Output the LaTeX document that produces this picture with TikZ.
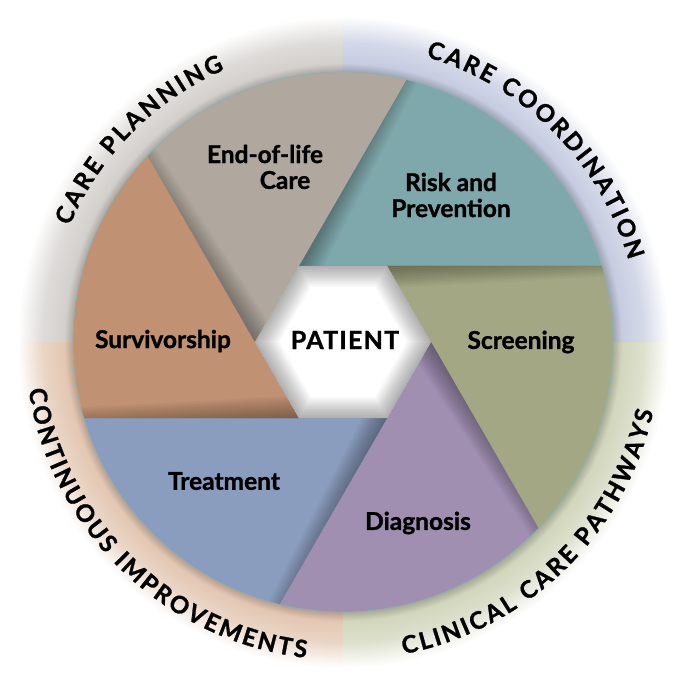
\documentclass[tikz,border=0pt]{standalone}
\usepackage{fontspec}
\setmainfont{Lato}[BoldFeatures={FakeBold=1.2}]
\usetikzlibrary{decorations.text}

\definecolor{bladeGray}{HTML}{B0A89F}
\definecolor{bladeTeal}{HTML}{7FA8AC}
\definecolor{bladeOlive}{HTML}{A3A783}
\definecolor{bladePurple}{HTML}{A08FB1}
\definecolor{bladeBlue}{HTML}{8B9DBE}
\definecolor{bladeTan}{HTML}{C09172}
\definecolor{ringTL}{HTML}{D3D0CC}
\definecolor{ringTR}{HTML}{C6CCE1}
\definecolor{ringBR}{HTML}{D2D6BC}
\definecolor{ringBL}{HTML}{E3C7B2}
\definecolor{rimline}{HTML}{8FB0B0}

\pgfdeclareradialshading{shTL}{\pgfpoint{0bp}{0bp}}{color(0bp)=(ringTL!80!black); color(20.15bp)=(ringTL!80!black); color(20.8bp)=(ringTL); color(22.4bp)=(ringTL!75!white); color(24.3bp)=(white); color(50bp)=(white)}
\pgfdeclareradialshading{shTR}{\pgfpoint{0bp}{0bp}}{color(0bp)=(ringTR!80!black); color(20.15bp)=(ringTR!80!black); color(20.8bp)=(ringTR); color(22.4bp)=(ringTR!75!white); color(24.3bp)=(white); color(50bp)=(white)}
\pgfdeclareradialshading{shBR}{\pgfpoint{0bp}{0bp}}{color(0bp)=(ringBR!80!black); color(20.15bp)=(ringBR!80!black); color(20.8bp)=(ringBR); color(22.4bp)=(ringBR!75!white); color(24.3bp)=(white); color(50bp)=(white)}
\pgfdeclareradialshading{shBL}{\pgfpoint{0bp}{0bp}}{color(0bp)=(ringBL!80!black); color(20.15bp)=(ringBL!80!black); color(20.8bp)=(ringBL); color(22.4bp)=(ringBL!75!white); color(24.3bp)=(white); color(50bp)=(white)}

\tikzset{
  bladelabel/.style={font=\bfseries\fontsize{24.5}{26}\selectfont, align=center, text=black, inner sep=0pt},
  ringtext/.style={decorate, decoration={text along path, text align={fit to path}, text={|\bfseries\fontsize{24}{24}\selectfont|#1}}}
}

\begin{document}
\begin{tikzpicture}[x=1pt,y=1pt]
\useasboundingbox (-343,-331) rectangle (332,342);
\fill[white] (-343,-331) rectangle (332,342);

% ring quadrants
\begin{scope}\clip (0,0) rectangle (-400,400);\shade[shading=shTL] (0,0) circle (335);\end{scope}
\begin{scope}\clip (0,0) rectangle (400,400);\shade[shading=shTR] (0,0) circle (335);\end{scope}
\begin{scope}\clip (0,0) rectangle (400,-400);\shade[shading=shBR] (0,0) circle (335);\end{scope}
\begin{scope}\clip (0,0) rectangle (-400,-400);\shade[shading=shBL] (0,0) circle (335);\end{scope}

% blades
\foreach \k/\col in {0/bladeTeal,1/bladeOlive,2/bladePurple,3/bladeBlue,4/bladeTan,5/bladeGray} {
  \pgfmathsetmacro\a{120-60*\k}
  \pgfmathsetmacro\aA{\a-43.61}
  \pgfmathsetmacro\aB{\a-103.61}
  \fill[\col] (\a:88) -- (\aA:270) arc[start angle=\aA, end angle=\aB, radius=270] -- cycle;
  \begin{scope}
    \clip (\a:88) -- (\aA:270) arc[start angle=\aA, end angle=\aB, radius=270] -- cycle;
    \foreach \w in {3,6,...,45}
      \draw[black, opacity=0.025, line width=\w pt] (\a:88) -- (\aA:320);
  \end{scope}
}
\draw[rimline, line width=0.7pt] (0,0) circle (270);

% hexagon
\fill[white] (0:88) -- (60:88) -- (120:88) -- (180:88) -- (240:88) -- (300:88) -- cycle;
\begin{scope}
  \clip (0:88) -- (60:88) -- (120:88) -- (180:88) -- (240:88) -- (300:88) -- cycle;
  \foreach \w in {3,6,...,42}
    \draw[black, opacity=0.022, line width=\w pt, line join=round] (0:88) -- (60:88) -- (120:88) -- (180:88) -- (240:88) -- (300:88) -- cycle;
\end{scope}

% labels
\node[bladelabel] (eol) at (-78,188) {End-of-life};
\node[bladelabel] (eolcare) at (-58,162) {Care};
\node[bladelabel] (risk) at (108,147) {Risk and\\Prevention};
\node[bladelabel] (screen) at (178,0) {Screening};
\node[bladelabel] (diag) at (75,-181) {Diagnosis};
\node[bladelabel] (treat) at (-119,-139) {Treatment};
\node[bladelabel] (surv) at (-180,1) {Survivorship};
\node[bladelabel, font=\bfseries\fontsize{25}{26}\selectfont\addfontfeature{LetterSpace=5}] (patient) at (2,2) {PATIENT};

% ring texts
\path[ringtext={CARE PLANNING}] (157:297) arc[start angle=157, end angle=113.5, radius=297];
\path[ringtext={CARE COORDINATION}] (73.8:297) arc[start angle=73.8, end angle=16, radius=297];
\path[ringtext={CLINICAL CARE PATHWAYS}] (-79:318) arc[start angle=-79, end angle=-12.6, radius=318];
\path[ringtext={CONTINUOUS IMPROVEMENTS}] (188.6:318) arc[start angle=188.6, end angle=263.3, radius=318];
\end{tikzpicture}
\end{document}
